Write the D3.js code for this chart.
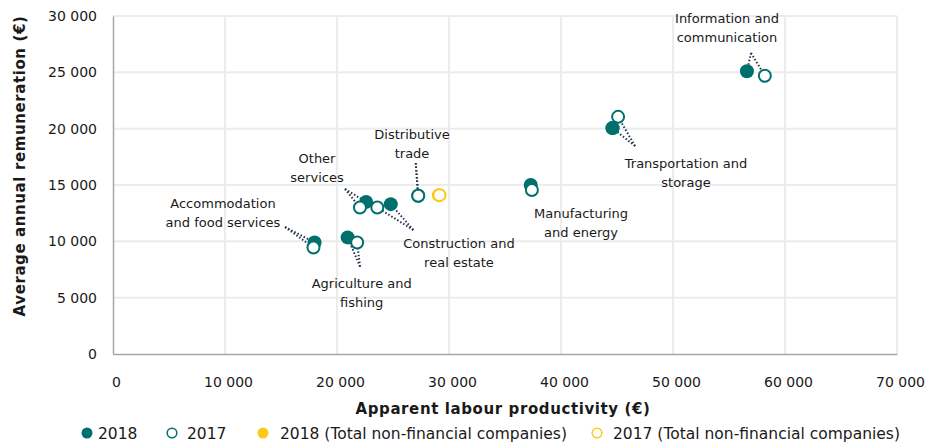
<!DOCTYPE html>
<html>
<head>
<meta charset="utf-8">
<script src="https://cdn.jsdelivr.net/npm/d3@7"></script>
<style>
  body { margin: 0; background: #fff; }
  svg { display: block; }
  text { font-family: "DejaVu Sans", Verdana, sans-serif; fill: #1a1a1a; }
</style>
</head>
<body>
<svg id="chart"></svg>
<script>
// sectors (same order in every array)
var sectors = ["Information and communication", "Transportation and storage", "Manufacturing and energy",
  "Distributive trade", "Other services", "Construction and real estate",
  "Agriculture and fishing", "Accommodation and food services"];
var prod2018 = [56600, 44600, 37300, 27250, 22600, 24800, 20950, 18000];
var rem2018  = [25100, 20050, 15000, 14050, 13500, 13300, 10350, 9900];
var prod2017 = [58200, 45100, 37400, 27250, 22050, 23600, 21800, 17900];
var rem2017  = [24700, 21050, 14550, 14050, 13000, 13000, 9900, 9450];
// total non-financial companies
var totalProd = [29100, 29150];   // 2018, 2017
var totalRem  = [14100, 14100];
var xTicks = [0, 10000, 20000, 30000, 40000, 50000, 60000, 70000];
var yTicks = [0, 5000, 10000, 15000, 20000, 25000, 30000];

// label text lines, label centre and leader start (data units)
var labelLines = [["Information and", "communication"], ["Transportation and", "storage"], ["Manufacturing", "and energy"],
  ["Distributive", "trade"], ["Other", "services"], ["Construction and", "real estate"],
  ["Agriculture and", "fishing"], ["Accommodation", "and food services"]];
var labelAt = [[54820, 29820], [51160, 16950], [41790, 12515], [26700, 19530],
  [18215, 17400], [30890, 9850], [22205, 6300], [9820, 13400]];
var leaderFrom = [[56970, 26720], [46610, 18460], null, [27030, 16950],
  [20715, 14645], [26815, 11005], [22055, 7750], [15360, 11270]];

var teal = "#00706e", yellow = "#fcc917";

var W = 927, H = 446;
var margin = { top: 16, right: 30, bottom: 92, left: 113 },
    width = 897 - margin.left,
    height = 354 - margin.top;

var xScale = d3.scaleLinear().domain([0, 70000]).range([0, width]);
var yScale = d3.scaleLinear().domain([0, 30000]).range([height, 0]);
var fmt = function (d) { return d3.format(",")(d).replace(/,/g, " "); };

var root = d3.select("#chart").attr("width", W).attr("height", H);
var svg = root.append("g").attr("transform", "translate(" + margin.left + "," + margin.top + ")");

// grid
svg.append("g").selectAll("line").data(yTicks.slice(1)).enter().append("line")
  .attr("x1", 0).attr("x2", width)
  .attr("y1", function (d) { return yScale(d); }).attr("y2", function (d) { return yScale(d); })
  .attr("stroke", "#ececec").attr("stroke-width", 2);
svg.append("g").selectAll("line").data(xTicks.slice(1)).enter().append("line")
  .attr("y1", 0).attr("y2", height)
  .attr("x1", function (d) { return xScale(d); }).attr("x2", function (d) { return xScale(d); })
  .attr("stroke", "#ececec").attr("stroke-width", 2);

// axes
var xAxis = d3.axisBottom(xScale).tickValues(xTicks).tickFormat(fmt).tickSize(0).tickPadding(23);
var yAxis = d3.axisLeft(yScale).tickValues(yTicks).tickFormat(fmt).tickSize(0).tickPadding(16);
var gx = svg.append("g").attr("transform", "translate(0," + height + ")").call(xAxis);
var gy = svg.append("g").call(yAxis);
[gx, gy].forEach(function (g) {
  g.select(".domain").attr("stroke", "#a6a6a6").attr("stroke-width", 1.5);
  g.selectAll("text").attr("font-family", "DejaVu Sans").attr("font-size", 14).attr("fill", "#1a1a1a");
});
gx.selectAll(".tick text").attr("dx", 3);

svg.append("text")
  .attr("x", width / 2 - 2).attr("y", height + 60)
  .attr("text-anchor", "middle").attr("font-weight", "bold").attr("font-size", 15)
  .attr("letter-spacing", 0.6)
  .text("Apparent labour productivity (€)");
root.append("text")
  .attr("transform", "translate(25,166) rotate(-90)")
  .attr("text-anchor", "middle").attr("font-weight", "bold").attr("font-size", 15)
  .attr("letter-spacing", 0.6)
  .text("Average annual remuneration (€)");

// leader lines
var leaders = [];
sectors.forEach(function (s, i) {
  if (!leaderFrom[i]) return;
  leaders.push({ from: leaderFrom[i], to: [prod2018[i], rem2018[i]] });
  leaders.push({ from: leaderFrom[i], to: [prod2017[i], rem2017[i]] });
});
svg.append("g").selectAll("line").data(leaders).enter().append("line")
  .attr("x1", function (d) { return xScale(d.from[0]); })
  .attr("y1", function (d) { return yScale(d.from[1]); })
  .attr("x2", function (d) { return xScale(d.to[0]); })
  .attr("y2", function (d) { return yScale(d.to[1]); })
  .attr("stroke", "#24344f").attr("stroke-width", 2).attr("stroke-dasharray", "1.5,2");

// points
svg.append("g").selectAll("circle").data(d3.range(sectors.length)).enter().append("circle")
  .attr("cx", function (i) { return xScale(prod2018[i]); })
  .attr("cy", function (i) { return yScale(rem2018[i]); })
  .attr("r", 7).attr("fill", teal);
svg.append("circle").attr("cx", xScale(totalProd[0])).attr("cy", yScale(totalRem[0]))
  .attr("r", 7).attr("fill", yellow);
svg.append("g").selectAll("circle").data(d3.range(sectors.length)).enter().append("circle")
  .attr("cx", function (i) { return xScale(prod2017[i]); })
  .attr("cy", function (i) { return yScale(rem2017[i]); })
  .attr("r", 6).attr("fill", "#fff").attr("stroke", teal).attr("stroke-width", 2);
svg.append("circle").attr("cx", xScale(totalProd[1])).attr("cy", yScale(totalRem[1]))
  .attr("r", 6).attr("fill", "#fff").attr("stroke", yellow).attr("stroke-width", 2);
// transportation 2018 sits on top of its 2017 marker
svg.append("circle").attr("cx", xScale(prod2018[1])).attr("cy", yScale(rem2018[1]))
  .attr("r", 7).attr("fill", teal);

// labels
var lab = svg.append("g").selectAll("text").data(d3.range(sectors.length)).enter().append("text")
  .attr("text-anchor", "middle").attr("font-size", 13)
  .attr("x", function (i) { return xScale(labelAt[i][0]); })
  .attr("y", function (i) { return yScale(labelAt[i][1]) + 5; });
lab.each(function (i) {
  var t = d3.select(this);
  labelLines[i].forEach(function (line, k) {
    t.append("tspan").attr("x", xScale(labelAt[i][0])).attr("dy", k === 0 ? 0 : 19).text(line);
  });
});

// legend
var legend = [
  { label: "2018", color: teal, filled: true, x: 87, gap: 11 },
  { label: "2017", color: teal, filled: false, x: 172, gap: 15 },
  { label: "2018 (Total non-financial companies)", color: yellow, filled: true, x: 263, gap: 17 },
  { label: "2017 (Total non-financial companies)", color: yellow, filled: false, x: 597, gap: 16 }
];
var lg = root.append("g").selectAll("g").data(legend).enter().append("g")
  .attr("transform", function (d) { return "translate(" + d.x + ",433)"; });
lg.append("circle").attr("r", function (d) { return d.filled ? 5.5 : 4.8; })
  .attr("fill", function (d) { return d.filled ? d.color : "#fff"; })
  .attr("stroke", function (d) { return d.filled ? "none" : d.color; })
  .attr("stroke-width", 1.5);
lg.append("text").attr("x", function (d) { return d.gap; }).attr("y", 6)
  .attr("font-family", "Liberation Sans").attr("font-size", 15.5)
  .text(function (d) { return d.label; });
</script>
</body>
</html>
